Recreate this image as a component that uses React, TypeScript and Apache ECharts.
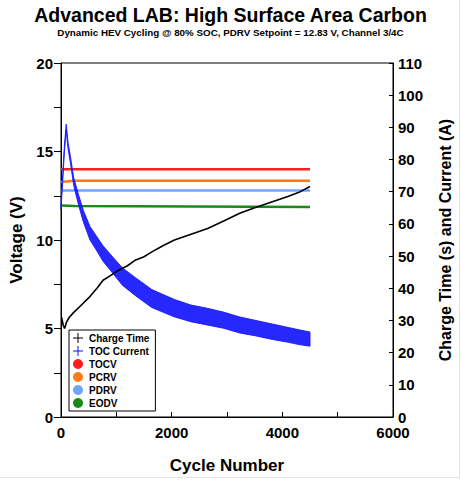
import React, { useEffect, useRef } from "react";
import * as echarts from "echarts";

// ---- Data ----
const chargeCycles = [10, 40, 65, 100, 150, 230, 350, 500, 650, 760, 900, 1050, 1200, 1350, 1500, 1650, 1850, 2050, 2350, 2650, 2950, 3230, 3500, 3820, 4100, 4300, 4500];
const chargeTime = [31, 28.5, 27.5, 29.5, 31, 32.5, 34.5, 37, 40, 42.5, 44, 45.7, 47, 48.8, 49.8, 51.4, 53.3, 55, 56.8, 58.6, 61, 63.3, 65, 66.9, 68.5, 69.8, 71.6];

const tocCycles = [0, 30, 60, 94, 130, 171, 229, 318, 406, 524, 641, 759, 935, 1112, 1346, 1641, 2052, 2347, 2641, 2935, 3229, 3523, 3817, 4112, 4300, 4500];
const tocLower = [64.5, 73, 82, 89, 83, 78.9, 72, 65.8, 60.5, 55, 51.8, 48.4, 44.7, 40.9, 37.7, 34, 31.1, 29.6, 28.6, 27.6, 26.1, 25.2, 24.1, 23.2, 22.5, 22];
const tocUpper = [66.5, 75, 84, 91, 85, 80.9, 74.4, 69, 64.1, 59.2, 56.2, 53.2, 49.7, 46.3, 43.3, 39.6, 36.5, 34.8, 33.8, 32.6, 31.1, 30, 28.9, 27.8, 27.1, 26.4];

const levelCycles = [0, 250, 4500];
const tocv = [14.0, 14.0, 14.0];
const pcrv = [13.28, 13.35, 13.35];
const pdrv = [12.8, 12.8, 12.8];
const eodv = [11.95, 11.92, 11.86];

const legendNames = ["Charge Time", "TOC Current", "TOCV", "PCRV", "PDRV", "EODV"];

const FONT = 'Arial, "Liberation Sans", Helvetica, sans-serif';
const plusIcon = "path://M4.5,0h1v4.5h4.5v1h-4.5v4.5h-1v-4.5h-4.5v-1h4.5z";

const pairs = (xs: number[], ys: number[]) => xs.map((x, i) => [x, ys[i]]);

export default function App() {
  const ref = useRef<HTMLDivElement>(null);
  useEffect(() => {
    if (!ref.current) return;
    const chart = echarts.init(ref.current, undefined, { renderer: "svg" });
    const levelSeries = (name: string, vals: number[], color: string) => ({
      name,
      type: "line",
      xAxisIndex: 0,
      yAxisIndex: 0,
      data: pairs(levelCycles, vals),
      showSymbol: false,
      symbol: "none",
      itemStyle: { color },
      lineStyle: { color, width: 2.5 },
      z: 2,
    });
    chart.setOption({
      animation: false,
      backgroundColor: "#ffffff",
      title: {
        text: "Advanced LAB: High Surface Area Carbon",
        subtext: "Dynamic HEV Cycling @ 80% SOC, PDRV Setpoint = 12.83 V, Channel 3/4C",
        left: "center",
        top: 0,
        itemGap: 2,
        textStyle: { fontFamily: FONT, fontSize: 19.5, fontWeight: "bold", color: "#000" },
        subtextStyle: { fontFamily: FONT, fontSize: 9.8, fontWeight: "bold", color: "#000" },
      },
      graphic: [
        { type: "line", shape: { x1: 459.5, y1: 0, x2: 459.5, y2: 478 }, style: { stroke: "#e4e4e4", lineWidth: 1 } },
        { type: "line", shape: { x1: 0, y1: 477.5, x2: 460, y2: 477.5 }, style: { stroke: "#e4e4e4", lineWidth: 1 } },
      ],
      legend: {
        orient: "vertical",
        left: 69,
        top: 330,
        padding: [3, 6, 3, 4],
        itemGap: 3,
        itemWidth: 10,
        itemHeight: 11,
        borderColor: "#000",
        borderWidth: 1,
        backgroundColor: "#fff",
        textStyle: { fontFamily: FONT, fontSize: 10, fontWeight: "bold", color: "#000", padding: [0, 0, 0, 1] },
        data: [
          { name: legendNames[0], icon: plusIcon },
          { name: legendNames[1], icon: plusIcon },
          { name: legendNames[2], icon: "circle" },
          { name: legendNames[3], icon: "circle" },
          { name: legendNames[4], icon: "circle" },
          { name: legendNames[5], icon: "circle" },
        ],
      },
      grid: {
        left: 57,
        right: 64,
        top: 63,
        bottom: 63,
        show: true,
        borderColor: "#000",
        borderWidth: 1,
        backgroundColor: "transparent",
      },
      xAxis: {
        type: "value",
        min: 0,
        max: 6000,
        interval: 1000,
        name: "Cycle Number",
        nameLocation: "middle",
        nameGap: 40,
        nameTextStyle: { fontFamily: FONT, fontSize: 17, fontWeight: "bold", color: "#000" },
        axisLine: { show: true, lineStyle: { color: "#000", width: 1 } },
        axisTick: { show: true, inside: true, length: 5, lineStyle: { color: "#000" } },
        axisLabel: {
          fontFamily: FONT,
          fontSize: 15,
          fontWeight: "bold",
          color: "#000",
          margin: 8,
          formatter: (v: number) => (v % 2000 === 0 ? String(v) : ""),
        },
        splitLine: { show: false },
      },
      yAxis: [
        {
          type: "value",
          min: 0,
          max: 20,
          interval: 2.5,
          position: "left",
          name: "Voltage (V)",
          nameLocation: "middle",
          nameGap: 36,
          nameTextStyle: { fontFamily: FONT, fontSize: 17, fontWeight: "bold", color: "#000" },
          axisLine: { show: true, lineStyle: { color: "#000", width: 1 } },
          axisTick: { show: true, inside: false, length: 7, lineStyle: { color: "#000" } },
          axisLabel: {
            fontFamily: FONT,
            fontSize: 15,
            fontWeight: "bold",
            color: "#000",
            margin: 8,
            formatter: (v: number) => (v % 5 === 0 ? String(v) : ""),
          },
          splitLine: { show: false },
        },
        {
          type: "value",
          min: 0,
          max: 110,
          interval: 10,
          position: "right",
          name: "Charge Time (s) and Current (A)",
          nameLocation: "middle",
          nameGap: 44,
          nameRotate: 90,
          nameTextStyle: { fontFamily: FONT, fontSize: 16, fontWeight: "bold", color: "#000" },
          axisLine: { show: true, lineStyle: { color: "#000", width: 1 } },
          axisTick: { show: true, inside: true, length: 4, lineStyle: { color: "#000" } },
          axisLabel: {
            fontFamily: FONT,
            fontSize: 15,
            fontWeight: "bold",
            color: "#000",
            margin: 5,
            padding: [0, 0, 7, 0],
          },
          splitLine: { show: false },
        },
      ],
      series: [
        levelSeries("TOCV", tocv, "#ff1f1f"),
        levelSeries("PCRV", pcrv, "#ff7a1a"),
        levelSeries("PDRV", pdrv, "#6ea6ff"),
        levelSeries("EODV", eodv, "#1a8a1a"),
        {
          name: "TOC Current",
          type: "custom",
          xAxisIndex: 0,
          yAxisIndex: 1,
          data: tocCycles.map((c, i) => [c, tocLower[i], tocUpper[i]]),
          encode: { x: 0, y: [1, 2] },
          itemStyle: { color: "#1414ff" },
          clip: true,
          z: 3,
          renderItem: (params: any, api: any) => {
            if (params.dataIndex !== 0) return null;
            const top = tocCycles.map((c, i) => api.coord([c, tocUpper[i]]));
            const bottom = tocCycles.map((c, i) => api.coord([c, tocLower[i]])).reverse();
            return {
              type: "polygon",
              shape: { points: top.concat(bottom) },
              style: { fill: "#1010ff", opacity: 0.9, stroke: "#1a1aff", lineWidth: 1 },
            };
          },
        },
        {
          name: "Charge Time",
          type: "line",
          yAxisIndex: 1,
          data: pairs(chargeCycles, chargeTime),
          symbol: "none",
          showSymbol: false,
          itemStyle: { color: "#000" },
          lineStyle: { color: "#000", width: 1.6 },
          z: 4,
        },
      ],
    });
    return () => chart.dispose();
  }, []);
  return (
    <div
      ref={ref}
      style={{ position: "fixed", left: 0, top: 0, width: 461, height: 480, background: "#fff" }}
    />
  );
}
